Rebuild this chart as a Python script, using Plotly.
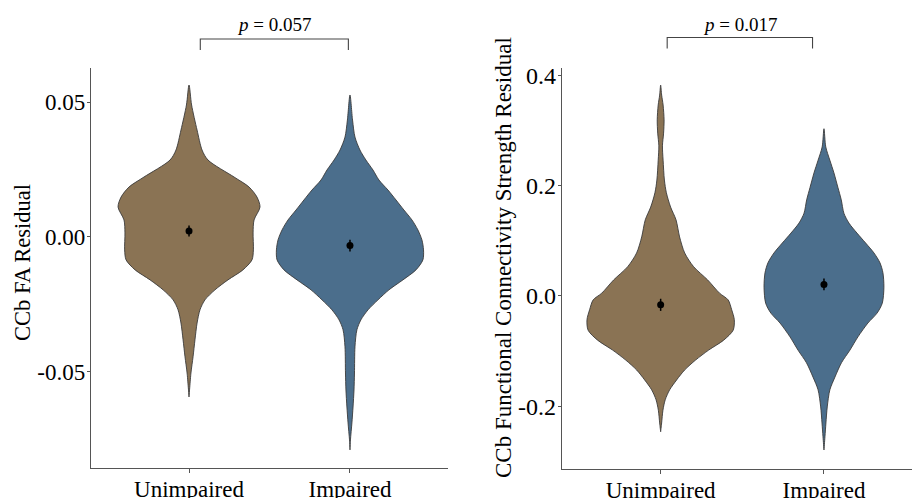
import plotly.graph_objects as go

# ---------------- data ----------------
categories = ["Unimpaired", "Impaired"]

# Left panel: CCb FA residual – violin outlines (y value, half-width in category units)
fa_unimp_y = [0.0563, 0.0489, 0.0396, 0.0322, 0.0285, 0.0222, 0.0185, 0.0148, 0.0111, 0.0063,
              0.0015, -0.0048, -0.0085, -0.0122, -0.0159, -0.0196, -0.0233, -0.0270, -0.0319,
              -0.0381, -0.0444, -0.0504, -0.0593]
fa_unimp_w = [0.0, 0.016, 0.050, 0.081, 0.118, 0.280, 0.373, 0.422, 0.441, 0.404,
              0.398, 0.400, 0.391, 0.335, 0.242, 0.161, 0.099, 0.068, 0.050,
              0.037, 0.025, 0.012, 0.0]
fa_imp_y = [0.0526, 0.0433, 0.0370, 0.0322, 0.0285, 0.0248, 0.0211, 0.0174, 0.0137, 0.0100,
            0.0063, 0.0026, -0.0011, -0.0048, -0.0085, -0.0122, -0.0159, -0.0196, -0.0233,
            -0.0270, -0.0307, -0.0344, -0.0407, -0.0504, -0.0567, -0.0630, -0.0689, -0.0752, -0.0789]
fa_imp_w = [0.0, 0.016, 0.031, 0.062, 0.099, 0.143, 0.180, 0.236, 0.286, 0.335,
            0.385, 0.422, 0.447, 0.457, 0.453, 0.410, 0.329, 0.242, 0.174,
            0.112, 0.068, 0.043, 0.031, 0.028, 0.025, 0.019, 0.012, 0.003, 0.0]
fa_mean = [0.0022, -0.0032]
fa_se = [0.0020, 0.0022]

# Right panel: CCb functional connectivity strength residual
fc_unimp_y = [0.382, 0.364, 0.346, 0.319, 0.295, 0.272, 0.246, 0.210, 0.187, 0.161, 0.138, 0.107,
              0.078, 0.053, 0.029, 0.005, -0.007, -0.025, -0.043, -0.062, -0.080, -0.098, -0.116,
              -0.134, -0.152, -0.170, -0.188, -0.207, -0.230, -0.246]
fc_unimp_w = [0.0, 0.006, 0.015, 0.021, 0.018, 0.011, 0.015, 0.023, 0.035, 0.061, 0.094, 0.116,
              0.147, 0.202, 0.288, 0.361, 0.413, 0.435, 0.451, 0.444, 0.386, 0.294, 0.214,
              0.147, 0.098, 0.055, 0.028, 0.014, 0.006, 0.0]
fc_imp_y = [0.303, 0.270, 0.246, 0.223, 0.197, 0.174, 0.150, 0.132, 0.114, 0.096, 0.078, 0.060,
            0.042, 0.016, -0.013, -0.031, -0.049, -0.074, -0.098, -0.121, -0.147, -0.170,
            -0.201, -0.230, -0.255, -0.279]
fc_imp_w = [0.0, 0.011, 0.036, 0.061, 0.085, 0.106, 0.122, 0.153, 0.202, 0.255, 0.306, 0.343,
            0.361, 0.367, 0.357, 0.325, 0.269, 0.208, 0.159, 0.107, 0.067, 0.036,
            0.020, 0.012, 0.006, 0.0]
fc_mean = [-0.016, 0.021]
fc_se = [0.011, 0.0105]

p_values = ["0.057", "0.017"]
fa_ticks = [0.05, 0.0, -0.05]
fa_ticktext = ["0.05", "0.00", "-0.05"]
fc_ticks = [0.4, 0.2, 0.0, -0.2]
fc_ticktext = ["0.4", "0.2", "0.0", "-0.2"]

colors = ["#8A7354", "#4B6E8C"]
FONT = "Liberation Serif"

W, H = 912, 498
# axis geometry
L_dom = [91 / W, 448 / W]
R_dom = [562 / W, 1.0]
L_ydom = [1 - 468 / H, 1 - 68 / H]
R_ydom = [1 - 469 / H, 1 - 68 / H]
L_xr = [0.391, 2.609]
R_xr = [0.396, 2.539]
L_yr = [-0.0856, 0.0626]
R_yr = [-0.3134, 0.413]

fig = go.Figure()


def violin(xc, ys, ws, color, xa, ya):
    xs = [xc + w for w in ws] + [xc - w for w in reversed(ws)]
    yy = list(ys) + list(reversed(ys))
    fig.add_trace(go.Scatter(x=xs, y=yy, mode="lines", fill="toself", fillcolor=color,
                             line=dict(color="#3a3a3a", width=0.9, shape="spline", smoothing=0.8),
                             xaxis=xa, yaxis=ya, hoverinfo="skip", showlegend=False))


violin(1, fa_unimp_y, fa_unimp_w, colors[0], "x", "y")
violin(2, fa_imp_y, fa_imp_w, colors[1], "x", "y")
violin(1, fc_unimp_y, fc_unimp_w, colors[0], "x2", "y2")
violin(2, fc_imp_y, fc_imp_w, colors[1], "x2", "y2")

for means, ses, xa, ya in [(fa_mean, fa_se, "x", "y"), (fc_mean, fc_se, "x2", "y2")]:
    fig.add_trace(go.Scatter(x=[1, 2], y=means, mode="markers",
                             marker=dict(color="black", size=7),
                             error_y=dict(type="data", array=ses, color="black", thickness=1.5, width=0),
                             xaxis=xa, yaxis=ya, showlegend=False, hoverinfo="skip"))

base_axis = dict(showline=True, linecolor="#555555", linewidth=1.3, showgrid=False, zeroline=False,
                 ticks="outside", tickcolor="#555555", tickwidth=1, automargin=False)

fig.update_layout(
    width=W, height=H, margin=dict(l=0, r=0, t=0, b=0),
    plot_bgcolor="white", paper_bgcolor="white",
    font=dict(family=FONT, color="black"),
    xaxis=dict(domain=L_dom, range=L_xr, tickvals=[1, 2], ticktext=categories,
               tickfont=dict(size=23), anchor="y", ticklen=4, ticklabelstandoff=-4, **base_axis),
    yaxis=dict(domain=L_ydom, range=L_yr, tickvals=fa_ticks, ticktext=fa_ticktext,
               tickfont=dict(size=23), anchor="x", ticklen=3, ticklabelstandoff=-3, **base_axis),
    xaxis2=dict(domain=R_dom, range=R_xr, tickvals=[1, 2], ticktext=categories,
                tickfont=dict(size=23), anchor="y2", ticklen=4, ticklabelstandoff=-4, **base_axis),
    yaxis2=dict(domain=R_ydom, range=R_yr, tickvals=fc_ticks, ticktext=fc_ticktext,
                tickfont=dict(size=24), anchor="x2", ticklen=3, ticklabelstandoff=-3, **base_axis),
)


def to_paper(x, dom, rng):
    return dom[0] + (x - rng[0]) / (rng[1] - rng[0]) * (dom[1] - dom[0])


# axis titles
fig.add_annotation(text="CCb FA Residual", x=22 / W, y=1 - 263 / H, xref="paper", yref="paper",
                   textangle=-90, showarrow=False, font=dict(size=22.5, family=FONT),
                   xanchor="center", yanchor="middle")
fig.add_annotation(text="CCb Functional Connectivity Strength Residual", x=503 / W, y=1 - 258 / H,
                   xref="paper", yref="paper", textangle=-90, showarrow=False,
                   font=dict(size=23, family=FONT), xanchor="center", yanchor="middle")

# significance brackets
brackets = [
    (1.07, 1.99, L_dom, L_xr, 39, 50, p_values[0]),
    (1.04, 1.93, R_dom, R_xr, 37.5, 48.5, p_values[1]),
]
for xa, xb, dom, rng, ytop, ybot, pv in brackets:
    pa = to_paper(xa, dom, rng)
    pb = to_paper(xb, dom, rng)
    yt = 1 - ytop / H
    yb = 1 - ybot / H
    fig.add_shape(type="path", xref="paper", yref="paper",
                  path=f"M {pa} {yb} L {pa} {yt} L {pb} {yt} L {pb} {yb}",
                  line=dict(color="#444444", width=1.1))
    fig.add_annotation(text=f"<i>p</i> = {pv}", x=(pa + pb) / 2, y=1 - 25 / H,
                       xref="paper", yref="paper", showarrow=False,
                       font=dict(size=19, family=FONT), xanchor="center", yanchor="middle")

fig.write_html("out.html", config={"displayModeBar": False})

# remove the default page margin so the figure sits at the window's top-left corner
with open("out.html", "r", encoding="utf-8") as f:
    html = f.read()
html = html.replace("<body>", '<body style="margin:0;padding:0;overflow:hidden">', 1)
with open("out.html", "w", encoding="utf-8") as f:
    f.write(html)
